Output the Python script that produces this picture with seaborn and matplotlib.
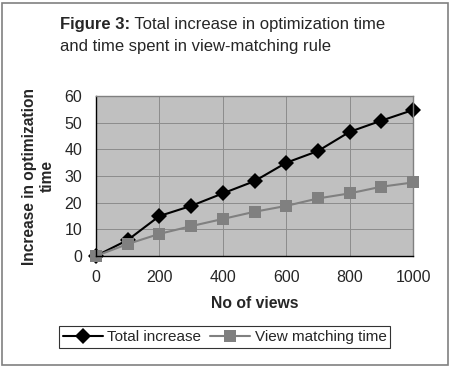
import matplotlib
matplotlib.use("Agg")
import matplotlib.pyplot as plt
import seaborn as sns
import pandas as pd
from matplotlib.patches import Rectangle

# Data
views = [0, 100, 200, 300, 400, 500, 600, 700, 800, 900, 1000]
total_increase = [0, 6, 15, 18.8, 23.5, 28.1, 35, 39.4, 46.6, 50.8, 54.8]
view_matching = [0, 4.5, 8.3, 11.2, 13.9, 16.6, 18.8, 21.6, 23.5, 26, 27.6]
series_names = ["Total increase", "View matching time"]

df = pd.DataFrame({
    "views": views * 2,
    "time": total_increase + view_matching,
    "series": [series_names[0]] * len(views) + [series_names[1]] * len(views),
})

sns.set_style("white")
plt.rcParams["font.family"] = ["Liberation Sans", "DejaVu Sans"]

fig = plt.figure(figsize=(4.54, 3.67), dpi=100)
ax = fig.add_axes([0.2115, 0.3025, 0.6982, 0.4355])

sns.lineplot(
    data=df, x="views", y="time", hue="series", style="series",
    palette={series_names[0]: "black", series_names[1]: "#808080"},
    markers={series_names[0]: "D", series_names[1]: "s"},
    dashes=False, markersize=8, linewidth=1.5, markeredgewidth=0,
    ax=ax, legend=True,
)

ax.set_facecolor("#c0c0c0")
ax.set_xlim(0, 1000)
ax.set_ylim(0, 60)
ax.set_xticks(range(0, 1001, 200))
ax.set_yticks(range(0, 61, 10))
ax.grid(True, color="#8c8c8c", linewidth=0.7)
ax.set_axisbelow(True)
for s in ax.spines.values():
    s.set_color("#808080")
    s.set_linewidth(1)
ax.spines["left"].set_color("black")
ax.spines["bottom"].set_color("black")
ax.tick_params(axis="both", direction="out", length=4, width=1, color="black",
               labelsize=11.5, pad=6)
for m in ax.lines:
    m.set_clip_on(False)

ax.set_xlabel("No of views", fontsize=11.3, fontweight="bold", labelpad=8)
ax.set_ylabel("Increase in optimization\ntime", fontsize=11.2, fontweight="bold",
              labelpad=7, linespacing=1.25)

leg = ax.legend(loc="center", bbox_to_anchor=(0.495, 0.082),
                bbox_transform=fig.transFigure, ncol=2, frameon=True,
                fancybox=False, edgecolor="black", fontsize=11,
                handlelength=2.6, columnspacing=0.6, handletextpad=0.3,
                borderpad=0.25)
leg.get_frame().set_linewidth(0.8)

t1 = fig.text(60 / 454, 1 - 25 / 367, "Figure 3:", fontsize=12,
              fontweight="bold", va="center", ha="left")
ax.annotate(" Total increase in optimization time", xy=(1, 0.5),
            xycoords=t1, va="center", ha="left", fontsize=12,
            annotation_clip=False)
fig.text(60 / 454, 1 - 46 / 367, "and time spent in view-matching rule",
         fontsize=12, va="center", ha="left")

fig.patches.append(Rectangle((0.004, 0.005), 0.982, 0.988,
                             transform=fig.transFigure, fill=False,
                             edgecolor="#808080", linewidth=1.2))

fig.savefig("out.png", dpi=100)
